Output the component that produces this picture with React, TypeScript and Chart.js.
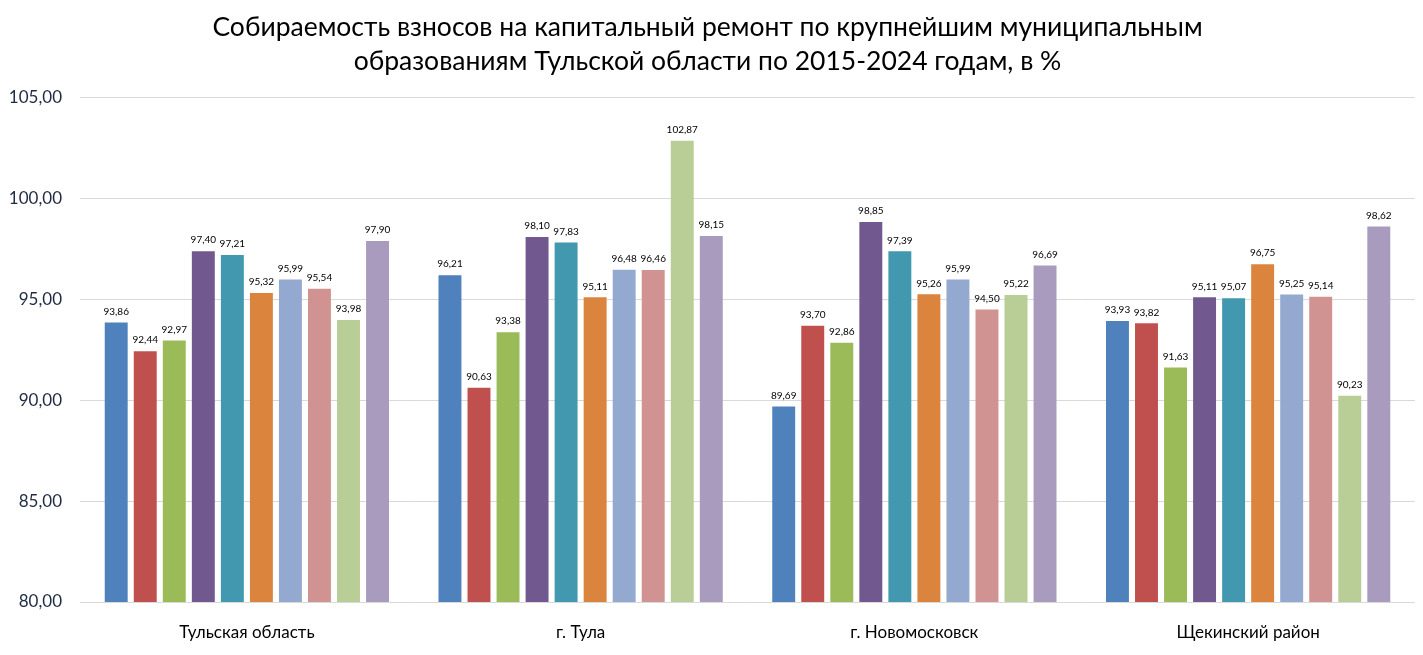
import React, { useEffect, useRef } from "react";
import { Chart, registerables } from "chart.js";

Chart.register(...registerables);

const categories = ["Тульская область", "г. Тула", "г. Новомосковск", "Щекинский район"];
const years = ["2015", "2016", "2017", "2018", "2019", "2020", "2021", "2022", "2023", "2024"];
const y2015 = [93.86, 96.21, 89.69, 93.93];
const y2016 = [92.44, 90.63, 93.7, 93.82];
const y2017 = [92.97, 93.38, 92.86, 91.63];
const y2018 = [97.4, 98.1, 98.85, 95.11];
const y2019 = [97.21, 97.83, 97.39, 95.07];
const y2020 = [95.32, 95.11, 95.26, 96.75];
const y2021 = [95.99, 96.48, 95.99, 95.25];
const y2022 = [95.54, 96.46, 94.5, 95.14];
const y2023 = [93.98, 102.87, 95.22, 90.23];
const y2024 = [97.9, 98.15, 96.69, 98.62];
const seriesValues = [y2015, y2016, y2017, y2018, y2019, y2020, y2021, y2022, y2023, y2024];
const colors = ["#4F81BD", "#C0504D", "#9BBB59", "#71588F", "#4198AF", "#DB843D", "#93A9CF", "#D19392", "#B9CD96", "#A99BBD"];
const titleLines = [
  "Собираемость взносов на капитальный ремонт по крупнейшим муниципальным",
  "образованиям Тульской области по 2015-2024 годам, в %",
];

const fmt = (v: number) => v.toFixed(2).replace(".", ",");
const FONT = "Lato, 'Open Sans', sans-serif";

const labelPlugin = {
  id: "barLabels",
  afterDatasetsDraw(chart: any) {
    const ctx = chart.ctx;
    ctx.save();
    ctx.font = `10px ${FONT}`;
    ctx.fillStyle = "#000000";
    ctx.textAlign = "center";
    ctx.textBaseline = "bottom";
    chart.data.datasets.forEach((ds: any, i: number) => {
      const meta = chart.getDatasetMeta(i);
      meta.data.forEach((bar: any, j: number) => {
        ctx.fillText(fmt(ds.data[j]), bar.x, bar.y - 6);
      });
    });
    ctx.restore();
  },
};

export default function App() {
  const ref = useRef<HTMLCanvasElement>(null);
  useEffect(() => {
    document.body.style.margin = "0";
    const chart = new Chart(ref.current!, {
      type: "bar",
      data: {
        labels: categories,
        datasets: seriesValues.map((d, i) => ({
          label: years[i],
          data: d,
          backgroundColor: colors[i],
          categoryPercentage: 0.87,
          barPercentage: 0.79,
        })),
      },
      options: {
        responsive: false,
        animation: false,
        layout: { padding: { left: 0, right: 8, top: 0, bottom: 0 } },
        plugins: {
          legend: { display: false },
          tooltip: { enabled: false },
          title: {
            display: true,
            text: titleLines,
            color: "#000000",
            font: { family: FONT, size: 26.5, weight: "normal", lineHeight: 1.3 },
            padding: { top: 10, bottom: 19 },
          },
        },
        scales: {
          x: {
            grid: { display: false, drawTicks: false },
            border: { display: false },
            ticks: { color: "#000000", font: { family: FONT, size: 17 }, padding: 20 },
            afterFit: (s: any) => { s.height = 53; },
          },
          y: {
            min: 80,
            max: 105,
            grid: { color: "#D9D9D9", drawTicks: false },
            border: { display: false },
            ticks: {
              stepSize: 5,
              color: "#1F2A44",
              font: { family: FONT, size: 17 },
              padding: 18,
              callback: (v: any) => fmt(Number(v)),
            },
            afterFit: (s: any) => { s.width = 80; },
          },
        },
      },
      plugins: [labelPlugin],
    });
    return () => chart.destroy();
  }, []);
  return (
    <div style={{ width: 1423, height: 655 }}>
      <canvas ref={ref} width={1423} height={655} />
    </div>
  );
}
